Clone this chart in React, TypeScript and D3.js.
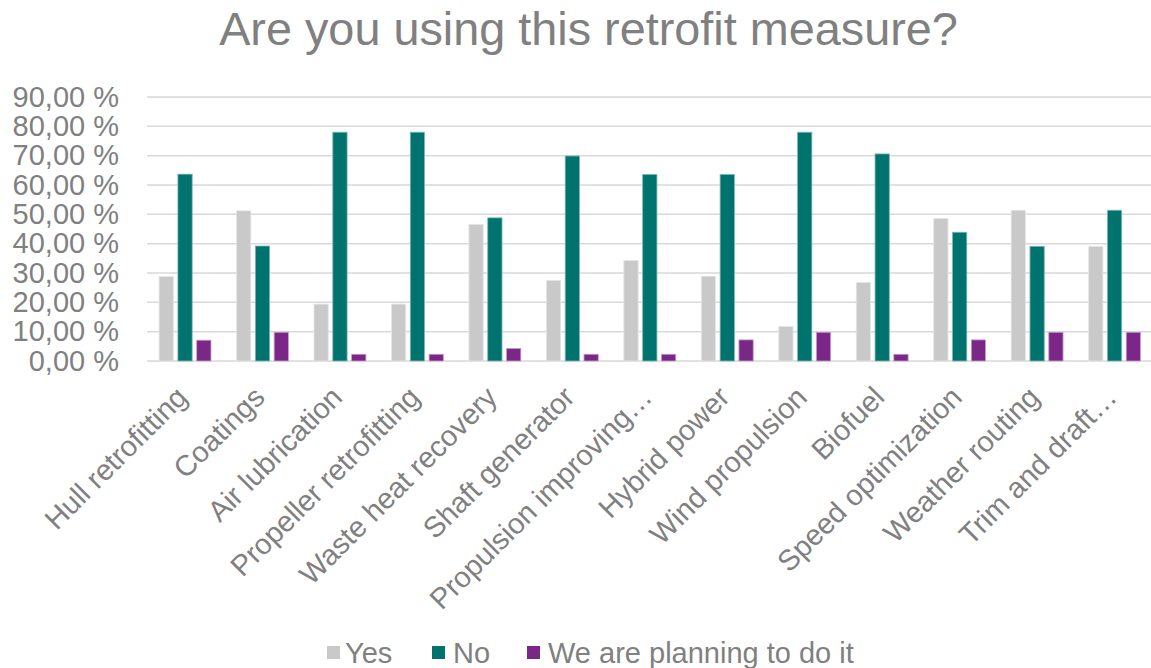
import React from "react";
import * as d3 from "d3";

const categories = [
  "Hull retrofitting",
  "Coatings",
  "Air lubrication",
  "Propeller retrofitting",
  "Waste heat recovery",
  "Shaft generator",
  "Propulsion improving…",
  "Hybrid power",
  "Wind propulsion",
  "Biofuel",
  "Speed optimization",
  "Weather routing",
  "Trim and draft…",
];

const seriesNames = ["Yes", "No", "We are planning to do it"];
const yesValues = [28.8, 51.2, 19.4, 19.4, 46.6, 27.5, 34.3, 28.9, 11.8, 26.8, 48.6, 51.4, 39.1];
const noValues = [63.7, 39.2, 78.0, 78.0, 48.8, 69.9, 63.6, 63.6, 78.0, 70.6, 43.9, 39.1, 51.4];
const planValues = [7.1, 9.8, 2.3, 2.3, 4.3, 2.3, 2.3, 7.2, 9.8, 2.3, 7.2, 9.8, 9.8];
const yTicks = [0, 10, 20, 30, 40, 50, 60, 70, 80, 90];

const colors = ["#C9C9C9", "#00736F", "#7B2787"];
const strokes = ["#E6E6E6", "#7FB9B7", "#C7A0CE"];

const W = 1151;
const H = 668;
const FONT = "'Liberation Sans', Arial, sans-serif";
const TEXT = "#808080";

export default function App() {
  const seriesValues = [yesValues, noValues, planValues];
  const x0 = d3
    .scaleBand<string>()
    .domain(categories)
    .range([146.3, 1153.3])
    .paddingInner(0.33)
    .paddingOuter(0.165);
  const x1 = d3
    .scaleBand<string>()
    .domain(seriesNames)
    .range([0, x0.bandwidth()])
    .paddingInner(0.24)
    .paddingOuter(0);
  const y = d3.scaleLinear().domain([0, 90]).range([361, 97]);
  const fmt = (v: number) => d3.format(".2f")(v).replace(".", ",") + " %";

  const legendItems = [
    { name: seriesNames[0], sx: 327, tx: 345 },
    { name: seriesNames[1], sx: 432, tx: 453 },
    { name: seriesNames[2], sx: 527, tx: 548 },
  ];

  return (
    <svg
      width={W}
      height={H}
      style={{ position: "absolute", left: 0, top: 0, background: "#fff" }}
      fontFamily={FONT}
    >
      <rect width={W} height={H} fill="#fff" />
      <text x={588.5} y={45} textAnchor="middle" fontSize={46.8} fill={TEXT}>
        Are you using this retrofit measure?
      </text>
      {yTicks.map((t) => (
        <g key={t}>
          <line x1={147} x2={W} y1={y(t)} y2={y(t)} stroke="#D9D9D9" strokeWidth={1.5} />
          <text x={119} y={y(t) + 9.5} textAnchor="end" fontSize={29} fill={TEXT}>
            {fmt(t)}
          </text>
        </g>
      ))}
      {categories.map((c, i) => (
        <g key={c} transform={`translate(${x0(c)},0)`}>
          {seriesNames.map((s, k) => {
            const v = seriesValues[k][i];
            return (
              <rect
                key={s}
                x={x1(s)}
                y={y(v)}
                width={x1.bandwidth()}
                height={y(0) - y(v)}
                fill={colors[k]}
                stroke={strokes[k]}
                strokeWidth={0.8}
              />
            );
          })}
        </g>
      ))}
      {categories.map((c) => {
        const cx = (x0(c) as number) + x0.bandwidth() / 2;
        const ax = cx + 4;
        const ay = 399;
        return (
          <text
            key={c}
            x={ax}
            y={ay}
            textAnchor="end"
            fontSize={29}
            fill={TEXT}
            transform={`rotate(-45, ${ax}, ${ay})`}
          >
            {c}
          </text>
        );
      })}
      {legendItems.map((it, k) => (
        <g key={it.name}>
          <rect x={it.sx} y={646} width={13} height={13} fill={colors[k]} />
          <text x={it.tx} y={663} fontSize={29} fill={TEXT}>
            {it.name}
          </text>
        </g>
      ))}
    </svg>
  );
}
